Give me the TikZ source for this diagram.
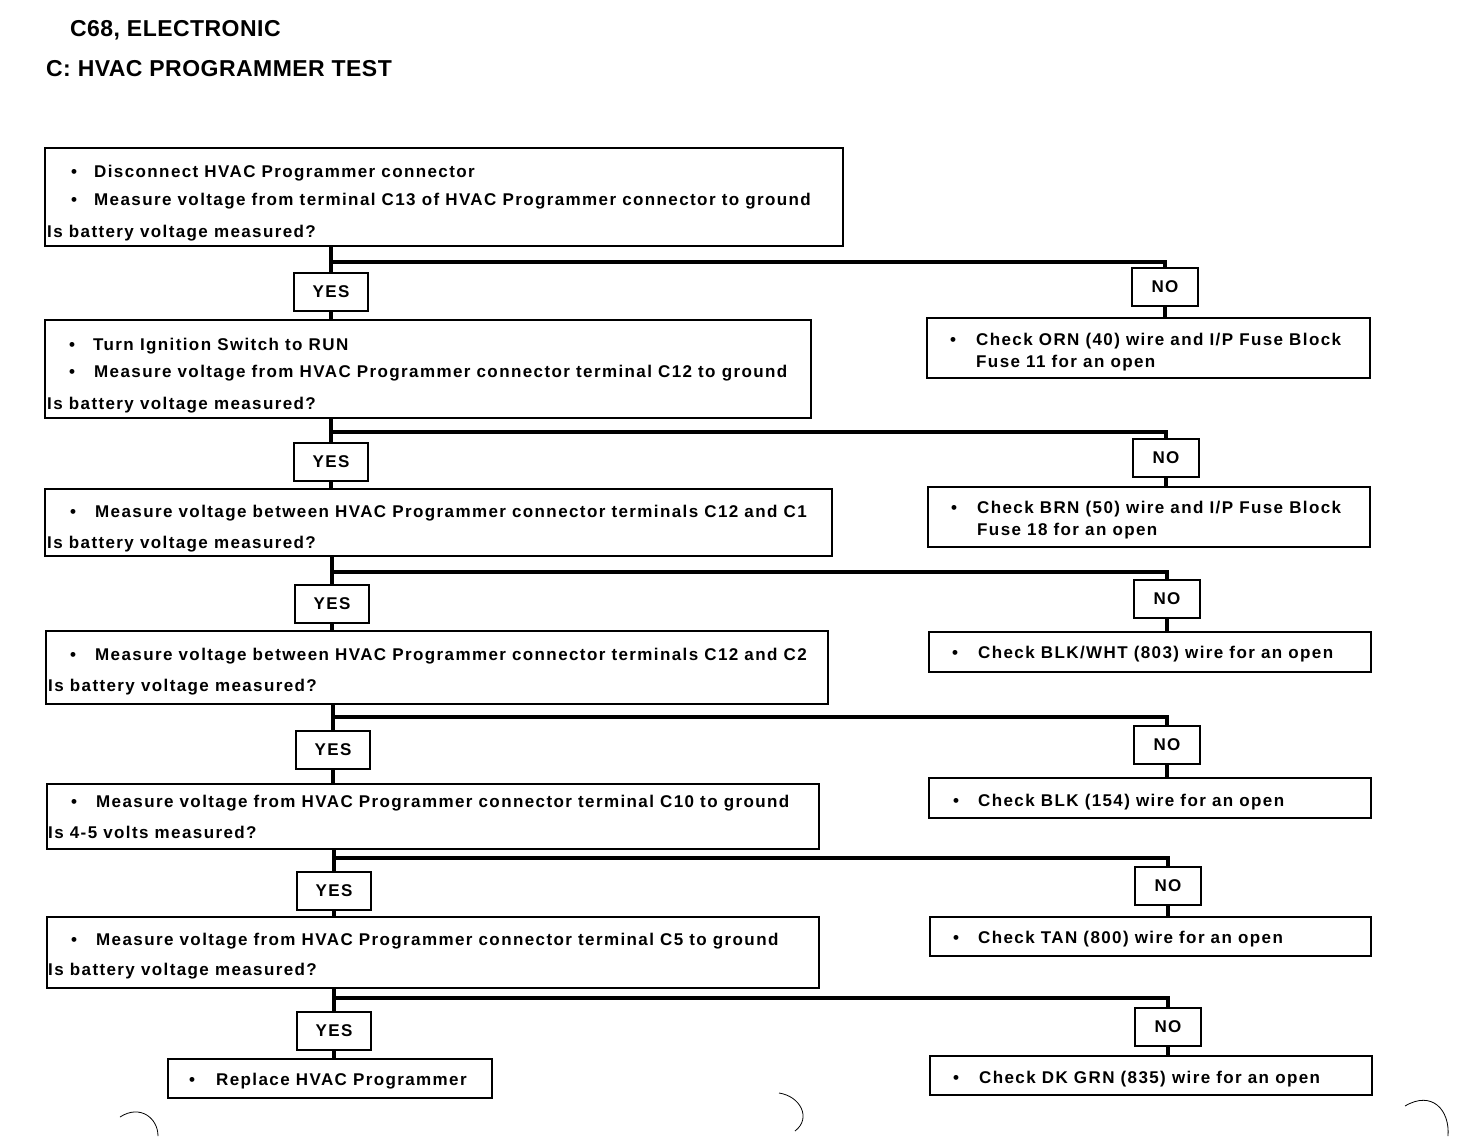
\documentclass[tikz,border=0pt]{standalone}
\usepackage{fontspec}
\setmainfont{Liberation Sans}
\newfontfamily\bodyf[LetterSpace=8.2]{Liberation Sans Bold}
\newfontfamily\titlef[LetterSpace=2]{Liberation Sans Bold}
\newcommand\body{\bodyf\fontsize{17}{20}\selectfont}
\newcommand\ttl{\titlef\fontsize{23}{27}\selectfont}
\newcommand\bx[5]{\node[box,minimum width={(#4-#2)*1pt},minimum height={(#5-#3)*1pt}] (#1) at ({(#2+#4)/2},{(#3+#5)/2}) {};}
\newcommand\yn[6]{\node[box,font=\body,minimum width={(#4-#2)*1pt},minimum height={(#5-#3)*1pt}] (#1) at ({(#2+#4)/2},{(#3+#5)/2}) {#6};}
\newcommand\tl[4]{\node[txt] (#1) at (#2,#3) {#4};}
\begin{document}
\begin{tikzpicture}[x=1pt,y=-1pt,
  box/.style={draw,line width=2pt,inner sep=0pt},
  txt/.style={inner sep=0pt,anchor=base west,font=\body},
  conn/.style={line width=3.2pt},
  scan/.style={line width=0.8pt}]
\useasboundingbox (0,0) rectangle (1472,1136);
% titles
\node[inner sep=0pt,anchor=base west,font=\ttl] (t1) at (70,36) {C68, ELECTRONIC};
\node[inner sep=0pt,anchor=base west,font=\ttl] (t2) at (46,76) {C: HVAC PROGRAMMER TEST};
% left boxes
\bx{b1}{45}{148}{843}{246}
\bx{b2}{45}{320}{811}{418}
\bx{b3}{45}{489}{832}{556}
\bx{b4}{46}{631}{828}{704}
\bx{b5}{47}{784}{819}{849}
\bx{b6}{47}{917}{819}{988}
\bx{b7}{168}{1059}{492}{1098}
% right boxes
\bx{r1}{927}{318}{1370}{378}
\bx{r2}{928}{487}{1370}{547}
\bx{r3}{929}{632}{1371}{672}
\bx{r4}{929}{778}{1371}{818}
\bx{r5}{930}{917}{1371}{956}
\bx{r6}{930}{1056}{1372}{1095}
% YES / NO
\yn{y1}{294}{273}{368}{311}{YES}
\yn{y2}{294}{443}{368}{481}{YES}
\yn{y3}{295}{585}{369}{623}{YES}
\yn{y4}{296}{731}{370}{769}{YES}
\yn{y5}{297}{872}{371}{910}{YES}
\yn{y6}{297}{1012}{371}{1050}{YES}
\yn{n1}{1132}{268}{1198}{306}{NO}
\yn{n2}{1133}{439}{1199}{477}{NO}
\yn{n3}{1134}{580}{1200}{618}{NO}
\yn{n4}{1134}{726}{1200}{764}{NO}
\yn{n5}{1135}{867}{1201}{905}{NO}
\yn{n6}{1135}{1008}{1201}{1046}{NO}
% box texts
\tl{b1p}{71}{177}{•}\tl{b1a}{94}{177}{Disconnect HVAC Programmer connector}
\tl{b1q}{71}{205}{•}\tl{b1b}{94}{205}{Measure voltage from terminal C13 of HVAC Programmer connector to ground}
\tl{b1c}{47}{237}{Is battery voltage measured?}
\tl{b2p}{69}{350}{•}\tl{b2a}{93}{350}{Turn Ignition Switch to RUN}
\tl{b2q}{69}{377}{•}\tl{b2b}{94}{377}{Measure voltage from HVAC Programmer connector terminal C12 to ground}
\tl{b2c}{47}{409}{Is battery voltage measured?}
\tl{b3p}{70}{517}{•}\tl{b3a}{95}{517}{Measure voltage between HVAC Programmer connector terminals C12 and C1}
\tl{b3c}{47}{548}{Is battery voltage measured?}
\tl{b4p}{70}{660}{•}\tl{b4a}{95}{660}{Measure voltage between HVAC Programmer connector terminals C12 and C2}
\tl{b4c}{48}{691}{Is battery voltage measured?}
\tl{b5p}{71}{807}{•}\tl{b5a}{96}{807}{Measure voltage from HVAC Programmer connector terminal C10 to ground}
\tl{b5c}{48}{838}{Is 4-5 volts measured?}
\tl{b6p}{71}{945}{•}\tl{b6a}{96}{945}{Measure voltage from HVAC Programmer connector terminal C5 to ground}
\tl{b6c}{48}{975}{Is battery voltage measured?}
\tl{b7p}{189}{1085}{•}\tl{b7a}{216}{1085}{Replace HVAC Programmer}
\tl{r1p}{950}{345}{•}\tl{r1a}{976}{345}{Check ORN (40) wire and I/P Fuse Block}
\tl{r1b}{976}{367}{Fuse 11 for an open}
\tl{r2p}{951}{513}{•}\tl{r2a}{977}{513}{Check BRN (50) wire and I/P Fuse Block}
\tl{r2b}{977}{535}{Fuse 18 for an open}
\tl{r3p}{952}{658}{•}\tl{r3a}{978}{658}{Check BLK/WHT (803) wire for an open}
\tl{r4p}{953}{806}{•}\tl{r4a}{978}{806}{Check BLK (154) wire for an open}
\tl{r5p}{953}{943}{•}\tl{r5a}{978}{943}{Check TAN (800) wire for an open}
\tl{r6p}{953}{1083}{•}\tl{r6a}{979}{1083}{Check DK GRN (835) wire for an open}
% junction levels
\coordinate (j1) at (0,262);
\coordinate (j2) at (0,432);
\coordinate (j3) at (0,572);
\coordinate (j4) at (0,717);
\coordinate (j5) at (0,858);
\coordinate (j6) at (0,998);
% connectors
\draw[conn] (b1.south -| y1.north) -- (y1.north);
\draw[conn] (y1.north |- j1) -- (n1.north |- j1) -- (n1.north);
\draw[conn] (y1.south) -- (y1.south |- b2.north);
\draw[conn] (n1.south) -- (n1.south |- r1.north);
\draw[conn] (b2.south -| y2.north) -- (y2.north);
\draw[conn] (y2.north |- j2) -- (n2.north |- j2) -- (n2.north);
\draw[conn] (y2.south) -- (y2.south |- b3.north);
\draw[conn] (n2.south) -- (n2.south |- r2.north);
\draw[conn] (b3.south -| y3.north) -- (y3.north);
\draw[conn] (y3.north |- j3) -- (n3.north |- j3) -- (n3.north);
\draw[conn] (y3.south) -- (y3.south |- b4.north);
\draw[conn] (n3.south) -- (n3.south |- r3.north);
\draw[conn] (b4.south -| y4.north) -- (y4.north);
\draw[conn] (y4.north |- j4) -- (n4.north |- j4) -- (n4.north);
\draw[conn] (y4.south) -- (y4.south |- b5.north);
\draw[conn] (n4.south) -- (n4.south |- r4.north);
\draw[conn] (b5.south -| y5.north) -- (y5.north);
\draw[conn] (y5.north |- j5) -- (n5.north |- j5) -- (n5.north);
\draw[conn] (y5.south) -- (y5.south |- b6.north);
\draw[conn] (n5.south) -- (n5.south |- r5.north);
\draw[conn] (b6.south -| y6.north) -- (y6.north);
\draw[conn] (y6.north |- j6) -- (n6.north |- j6) -- (n6.north);
\draw[conn] (y6.south) -- (y6.south |- b7.north);
\draw[conn] (n6.south) -- (n6.south |- r6.north);
% scan marks
\draw[scan] (120,1117) .. controls (140,1104) and (158,1118) .. (158,1136);
\draw[scan] (779,1093) .. controls (800,1096) and (812,1118) .. (795,1131);
\draw[scan] (1405,1106) .. controls (1432,1090) and (1450,1110) .. (1448,1136);
\end{tikzpicture}
\end{document}
